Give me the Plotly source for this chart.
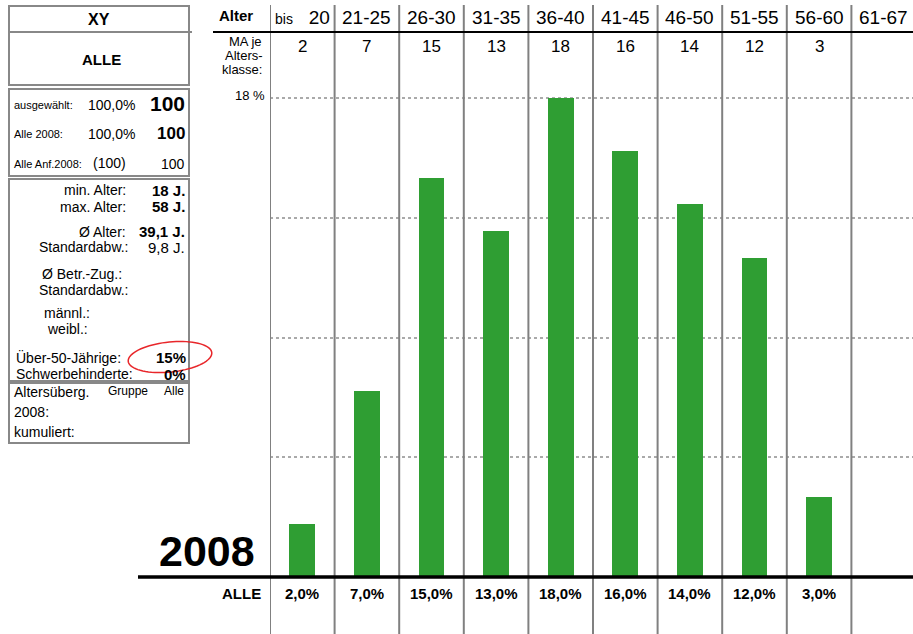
import numpy as np
import plotly.graph_objects as go

# ---------------- data ----------------
categories = ["bis 20", "21-25", "26-30", "31-35", "36-40", "41-45", "46-50", "51-55", "56-60", "61-67"]
header_labels = ["<span style='font-size:14px'>bis</span>&nbsp;&nbsp; 20", "21-25", "26-30", "31-35",
                 "36-40", "41-45", "46-50", "51-55", "56-60", "61-67"]
counts = [2, 7, 15, 13, 18, 16, 14, 12, 3, None]
percents = [2.0, 7.0, 15.0, 13.0, 18.0, 16.0, 14.0, 12.0, 3.0, None]
y_max = 18
grid_step = 4.5
year_label = "2008"
group_label = "ALLE"
title_label = "XY"

sel_pct, sel_n = "100,0%", "100"
all_pct, all_n = "100,0%", "100"
anf_paren, anf_n = "(100)", "100"
min_age, max_age = "18 J.", "58 J."
mean_age, sd_age = "39,1 J.", "9,8 J."
over50, disabled = "15%", "0%"

# ---------------- helpers (pixel -> paper) ----------------
W, H = 913, 634
FONT = "Liberation Sans, Arial, Helvetica, sans-serif"


def px(x):
    return x / W


def py(y):
    return 1 - y / H


annotations = []
shapes = []


def txt(text, x, y, size, bold=False, anchor="left", xref="paper", yref="paper", color="#000"):
    if bold:
        text = "<b>" + text + "</b>"
    annotations.append(dict(
        text=text, x=x if xref != "paper" else px(x), y=y if yref != "paper" else py(y),
        xref=xref, yref=yref, xanchor=anchor, yanchor="middle", showarrow=False,
        font=dict(family=FONT, size=size, color=color), borderpad=0))


def rect(x0, y0, x1, y1, color="#888", width=2):
    shapes.append(dict(type="rect", xref="paper", yref="paper", x0=px(x0), x1=px(x1), y0=py(y0), y1=py(y1),
                       line=dict(color=color, width=width), fillcolor="rgba(0,0,0,0)"))


def hline(x0, x1, y, color, width):
    shapes.append(dict(type="line", xref="paper", yref="paper", x0=px(x0), x1=px(x1), y0=py(y), y1=py(y),
                       line=dict(color=color, width=width)))


# ---------------- figure ----------------
fig = go.Figure()
fig.add_trace(go.Bar(
    x=categories, y=percents, width=0.4,
    marker=dict(color="#2f9e33", line=dict(width=0)),
    hoverinfo="skip",
))

# column separators (through the x scale)
for k in range(len(categories)):
    shapes.append(dict(type="line", xref="x", yref="paper", x0=k - 0.5, x1=k - 0.5, y0=py(634), y1=py(5),
                       line=dict(color="#808080", width=2)))

# header row
txt("Alter", 236, 16, 15, bold=True, anchor="center")
for cat, lab in zip(categories, header_labels):
    txt(lab, cat, 17, 19, anchor="center", xref="x")
hline(213, 913, 32, "#000", 2)

# counts row
txt("MA je", 263, 41, 13, anchor="right")
txt("Alters-", 264, 55, 13, anchor="right")
txt("klasse:", 263, 69.5, 13, anchor="right")
for cat, c in zip(categories, counts):
    if c is not None:
        txt(str(c), cat, 47, 17, anchor="center", xref="x")

# y label
txt(f"{y_max} %", 266, y_max + 0.1, 13, anchor="right", yref="y")

# baseline and bottom row
hline(138, 913, 577, "#000", 3.5)
txt(year_label, 207, 551, 43, bold=True, anchor="center")
txt(group_label, 262, 593, 15, bold=True, anchor="right")
for cat, p in zip(categories, percents):
    if p is not None:
        txt(f"{p:.1f}".replace(".", ",") + "%", cat, 593, 15, bold=True, anchor="center", xref="x")

# ---------------- left panel ----------------
rect(9, 6, 189, 85)
hline(9, 192, 32, "#888", 2)
txt(title_label, 99, 19, 16, bold=True, anchor="center")
txt(group_label, 101, 60, 15, bold=True, anchor="center")

rect(9, 89, 189, 176)
txt("ausgewählt:", 13, 105, 11)
txt(sel_pct, 87, 105, 14)
txt(sel_n, 186, 104, 21, bold=True, anchor="right")
txt("Alle 2008:", 13, 134, 11)
txt(all_pct, 87, 134, 14)
txt(all_n, 186, 133, 17, bold=True, anchor="right")
txt("Alle Anf.2008:", 13, 164, 11)
txt(anf_paren, 92, 163, 14)
txt(anf_n, 186, 164, 14, anchor="right")

rect(9, 179, 189, 381)
txt("min. Alter:", 127, 190, 14, anchor="right")
txt(min_age, 186, 190, 15, bold=True, anchor="right")
txt("max. Alter:", 127, 207, 14, anchor="right")
txt(max_age, 186, 207, 15, bold=True, anchor="right")
txt("Ø Alter:", 127, 232, 14, anchor="right")
txt(mean_age, 186, 232, 15, bold=True, anchor="right")
txt("Standardabw.:", 130, 247, 14, anchor="right")
txt(sd_age, 186, 247, 15, anchor="right")
txt("Ø Betr.-Zug.:", 82, 274, 14, anchor="center")
txt("Standardabw.:", 84, 290, 14, anchor="center")
txt("männl.:", 67, 313, 14, anchor="center")
txt("weibl.:", 67, 329, 14, anchor="center")
txt("Über-50-Jährige:", 15, 357, 14)
txt(over50, 187, 357, 15, bold=True, anchor="right")
txt("Schwerbehinderte:", 15, 374, 14)
txt(disabled, 187, 374, 15, bold=True, anchor="right")

rect(9, 383, 189, 443)
txt("Altersüberg.", 13, 392, 14)
txt("Gruppe", 128, 391, 12, anchor="center")
txt("Alle", 174, 391, 12, anchor="center")
txt("2008:", 13, 412, 14)
txt("kumuliert:", 13, 432, 14)

# hand-drawn red ellipse around the over-50 value
t = np.linspace(0.15, 2 * np.pi + 0.45, 80)
cx, cy, rx, ry, rot = 170, 357, 42, 15, np.deg2rad(-6)
ex = cx + rx * np.cos(t) * np.cos(rot) - ry * np.sin(t) * np.sin(rot)
ey = cy + rx * np.cos(t) * np.sin(rot) + ry * np.sin(t) * np.cos(rot)
path = "M " + " L ".join(f"{px(a):.5f},{py(b):.5f}" for a, b in zip(ex, ey))
shapes.append(dict(type="path", xref="paper", yref="paper", path=path,
                   line=dict(color="#e8262a", width=1.5)))

# ---------------- axes / layout ----------------
col_w = 64.6
x_start = 270
x_end_idx = -0.5 + (W - x_start) / col_w
y_base, y_top_px, y_dom_top = 577, 98, 90
y_range_max = y_max * (y_base - y_dom_top) / (y_base - y_top_px)

fig.update_layout(
    width=W, height=H,
    margin=dict(l=0, r=0, t=0, b=0),
    paper_bgcolor="white", plot_bgcolor="white",
    showlegend=False,
    bargap=0,
    xaxis=dict(type="category", categoryorder="array", categoryarray=categories,
               domain=[px(x_start), 1], range=[-0.5, x_end_idx],
               showticklabels=False, showgrid=False, zeroline=False, showline=False, ticks=""),
    yaxis=dict(domain=[py(y_base), py(y_dom_top)], range=[0, y_range_max], tick0=0, dtick=grid_step,
               showticklabels=False, showgrid=True, gridcolor="#aaaaaa", gridwidth=2, griddash="dot",
               zeroline=False, showline=False, ticks=""),
    annotations=annotations,
    shapes=shapes,
)

fig.write_html("out.html", config={"displayModeBar": False},
               post_script="document.body.style.margin='0';document.body.style.overflow='hidden';")
